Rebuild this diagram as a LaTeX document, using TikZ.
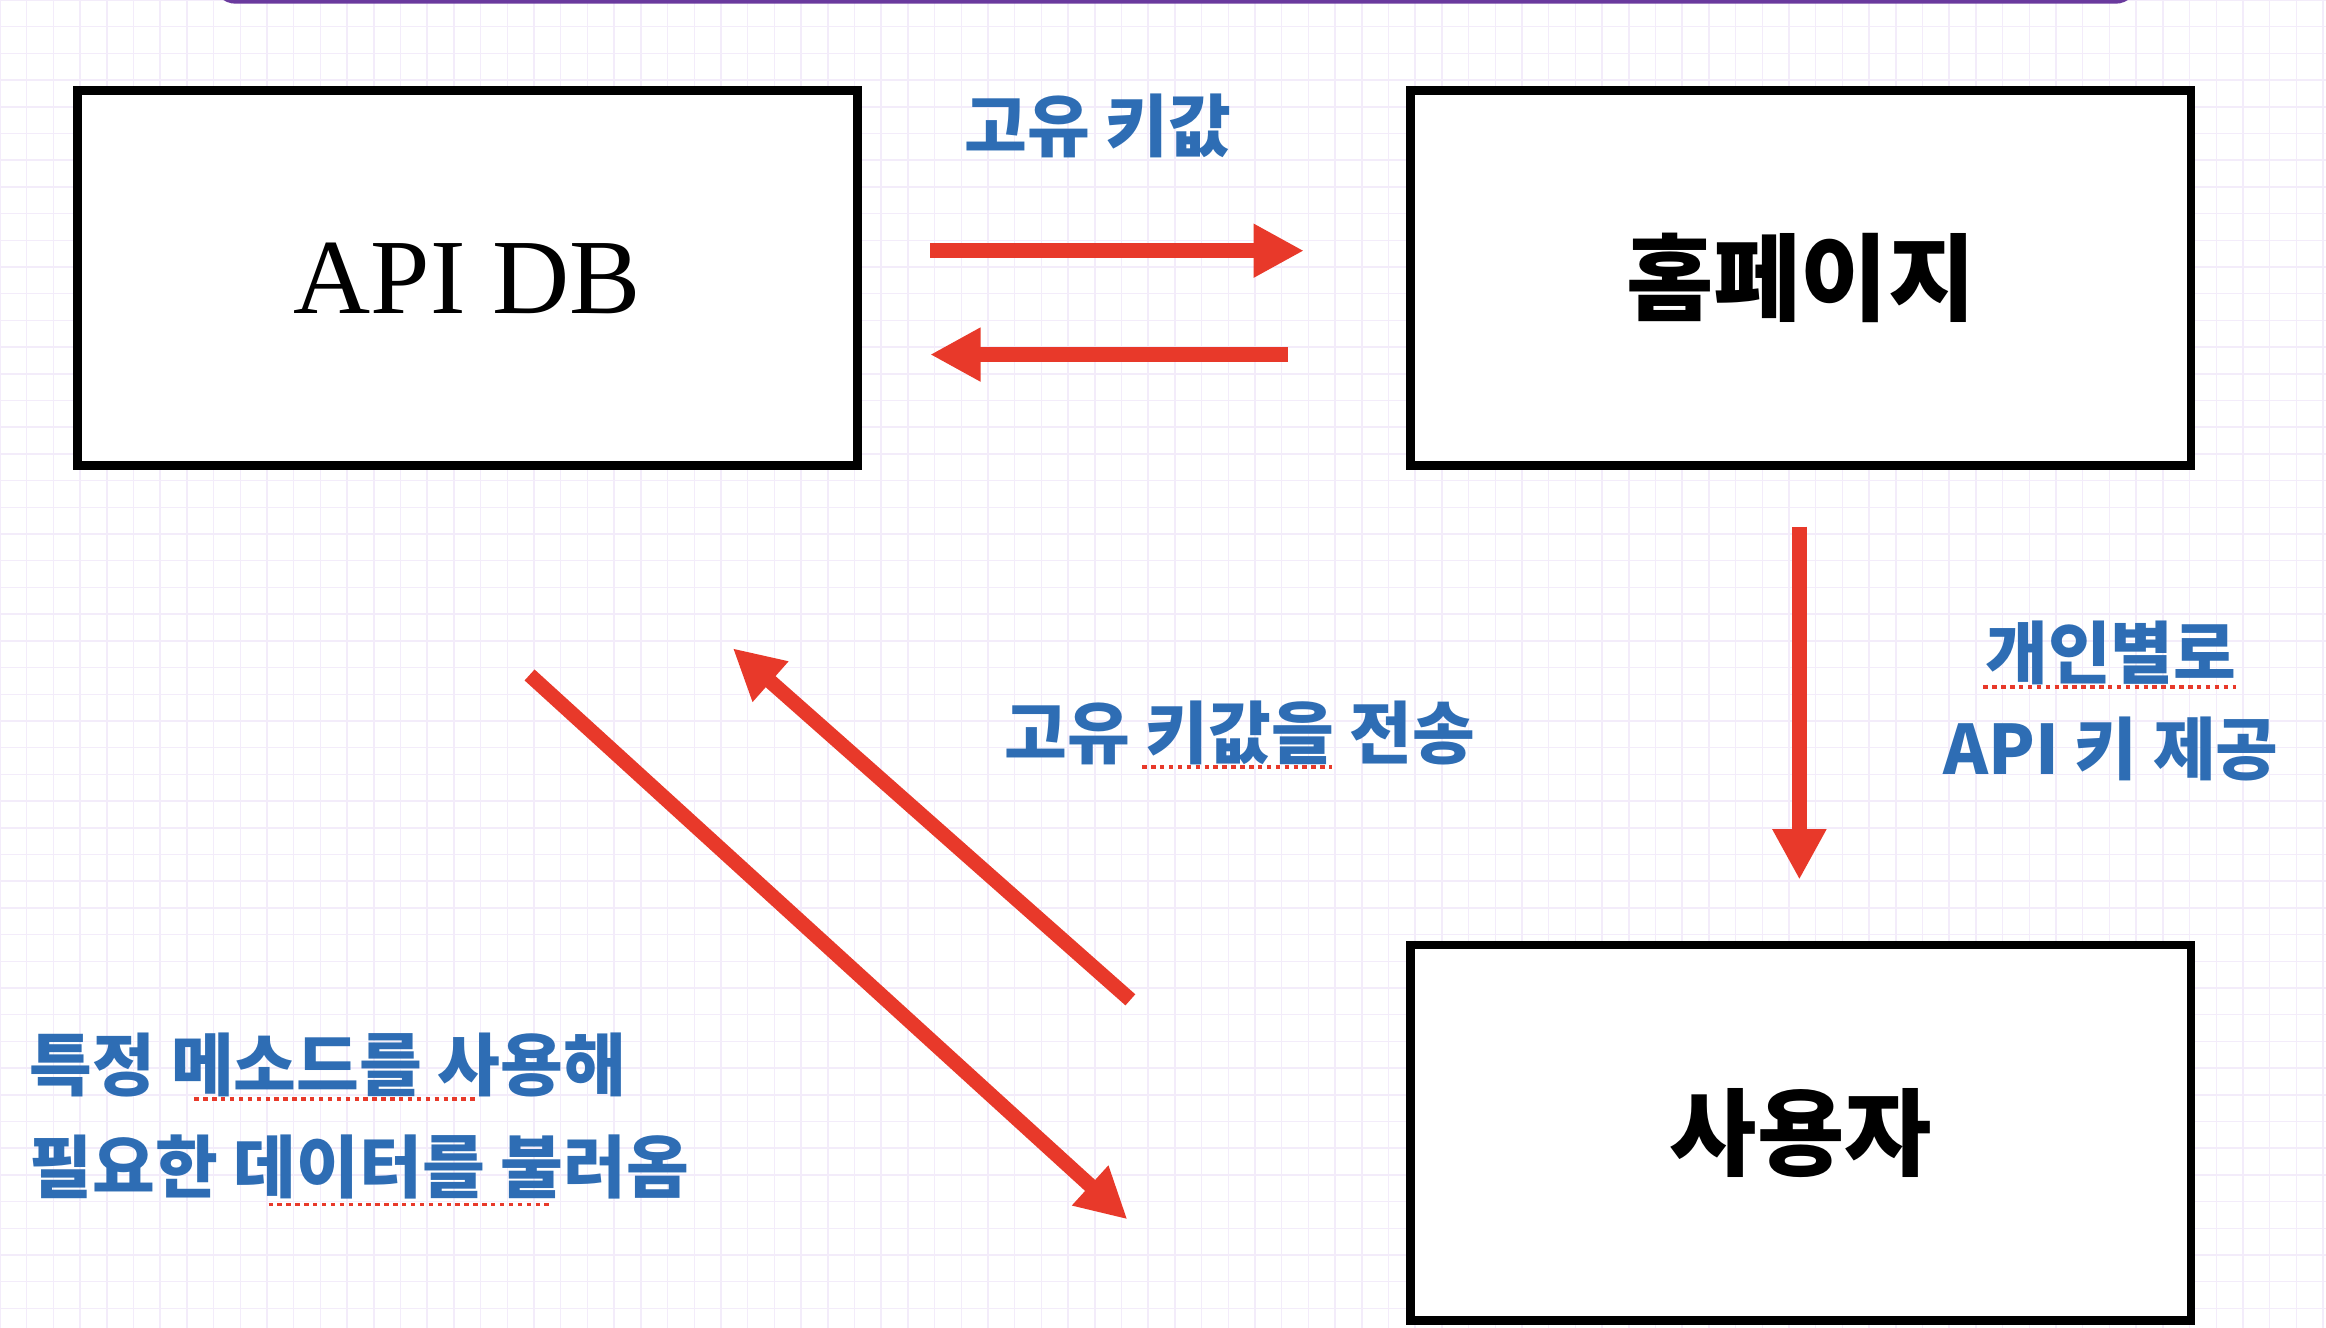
\documentclass[tikz,border=0pt]{standalone}
\usepackage{fontspec}
\setmainfont{Liberation Serif}
\newfontfamily\kr{Noto Sans CJK KR}
\usetikzlibrary{arrows.meta}
\definecolor{rd}{HTML}{E8392A}
\definecolor{bl}{HTML}{2E6DB4}
\definecolor{gr}{HTML}{F3ECFA}
\definecolor{pu}{HTML}{6A3A9E}
\tikzset{
 box/.style={draw=black,line width=6pt,fill=white,inner sep=0pt},
 arr/.style={rd,line width=10pt,-{Triangle[length=34pt,width=34pt]}},
 lab/.style={bl,font=\kr\bfseries\fontsize{46}{56}\selectfont,inner sep=0pt},
 big/.style={font=\kr\bfseries\fontsize{64}{70}\selectfont,inner sep=0pt},
 squig/.style={rd,line width=2.5pt,dash pattern=on 3pt off 3pt}
}
\begin{document}
\begin{tikzpicture}[x=1pt,y=-1pt]
\useasboundingbox (0,0) rectangle (1568,895);
\fill[white] (0,0) rectangle (1568,895);
\draw[gr,line width=1pt] (0,0) grid[step=18pt] (1568,895);
\draw[pu,line width=3pt,rounded corners=14pt,fill=white] (145,-40) rectangle (1440,1);
% boxes
\node[box,minimum width=526pt,minimum height=253pt] (db) at (315,187.5) {\fontsize{72}{80}\selectfont\addfontfeature{}API DB};
\node[box,minimum width=526pt,minimum height=253pt] (hp) at (1214,187.5) {};
\node[big] at (hp) {홈페이지};
\node[box,minimum width=526pt,minimum height=253pt] (us) at (1214,763.5) {};
\node[big] at (us) {사용자};
% arrows
\coordinate (a1) at (627,169); \coordinate (a2) at (879,169);
\coordinate (b1) at (868,239); \coordinate (b2) at (627,239);
\coordinate (c1) at (1213,355); \coordinate (c2) at (1213,593);
\coordinate (d1) at (357,455); \coordinate (d2) at (760,822);
\coordinate (e1) at (762,674); \coordinate (e2) at (494,437);
\draw[arr] (a1) -- (a2);
\draw[arr] (b1) -- (b2);
\draw[arr] (c1) -- (c2);
\draw[arr] (d1) -- (d2);
\draw[arr] (e1) -- (e2);
% labels
\node[lab] (t1) at (740,85) {고유 키값};
\node[lab] (t2) at (1423,440) {개인별로};
\node[lab] (t3) at (1423,505) {API 키 제공};
\node[lab] (t4) at (836,494) {고유 키값을 전송};
\node[lab,anchor=west] (t5) at (20,718) {특정 메소드를 사용해};
\node[lab,anchor=west] (t6) at (20,787) {필요한 데이터를 불러옴};
\draw[squig] (1337,463) -- (1507,463);
\draw[squig] (770,517) -- (898,517);
\draw[squig] (131,741) -- (322,741);
\draw[squig] (181,812) -- (371,812);
\end{tikzpicture}
\end{document}
